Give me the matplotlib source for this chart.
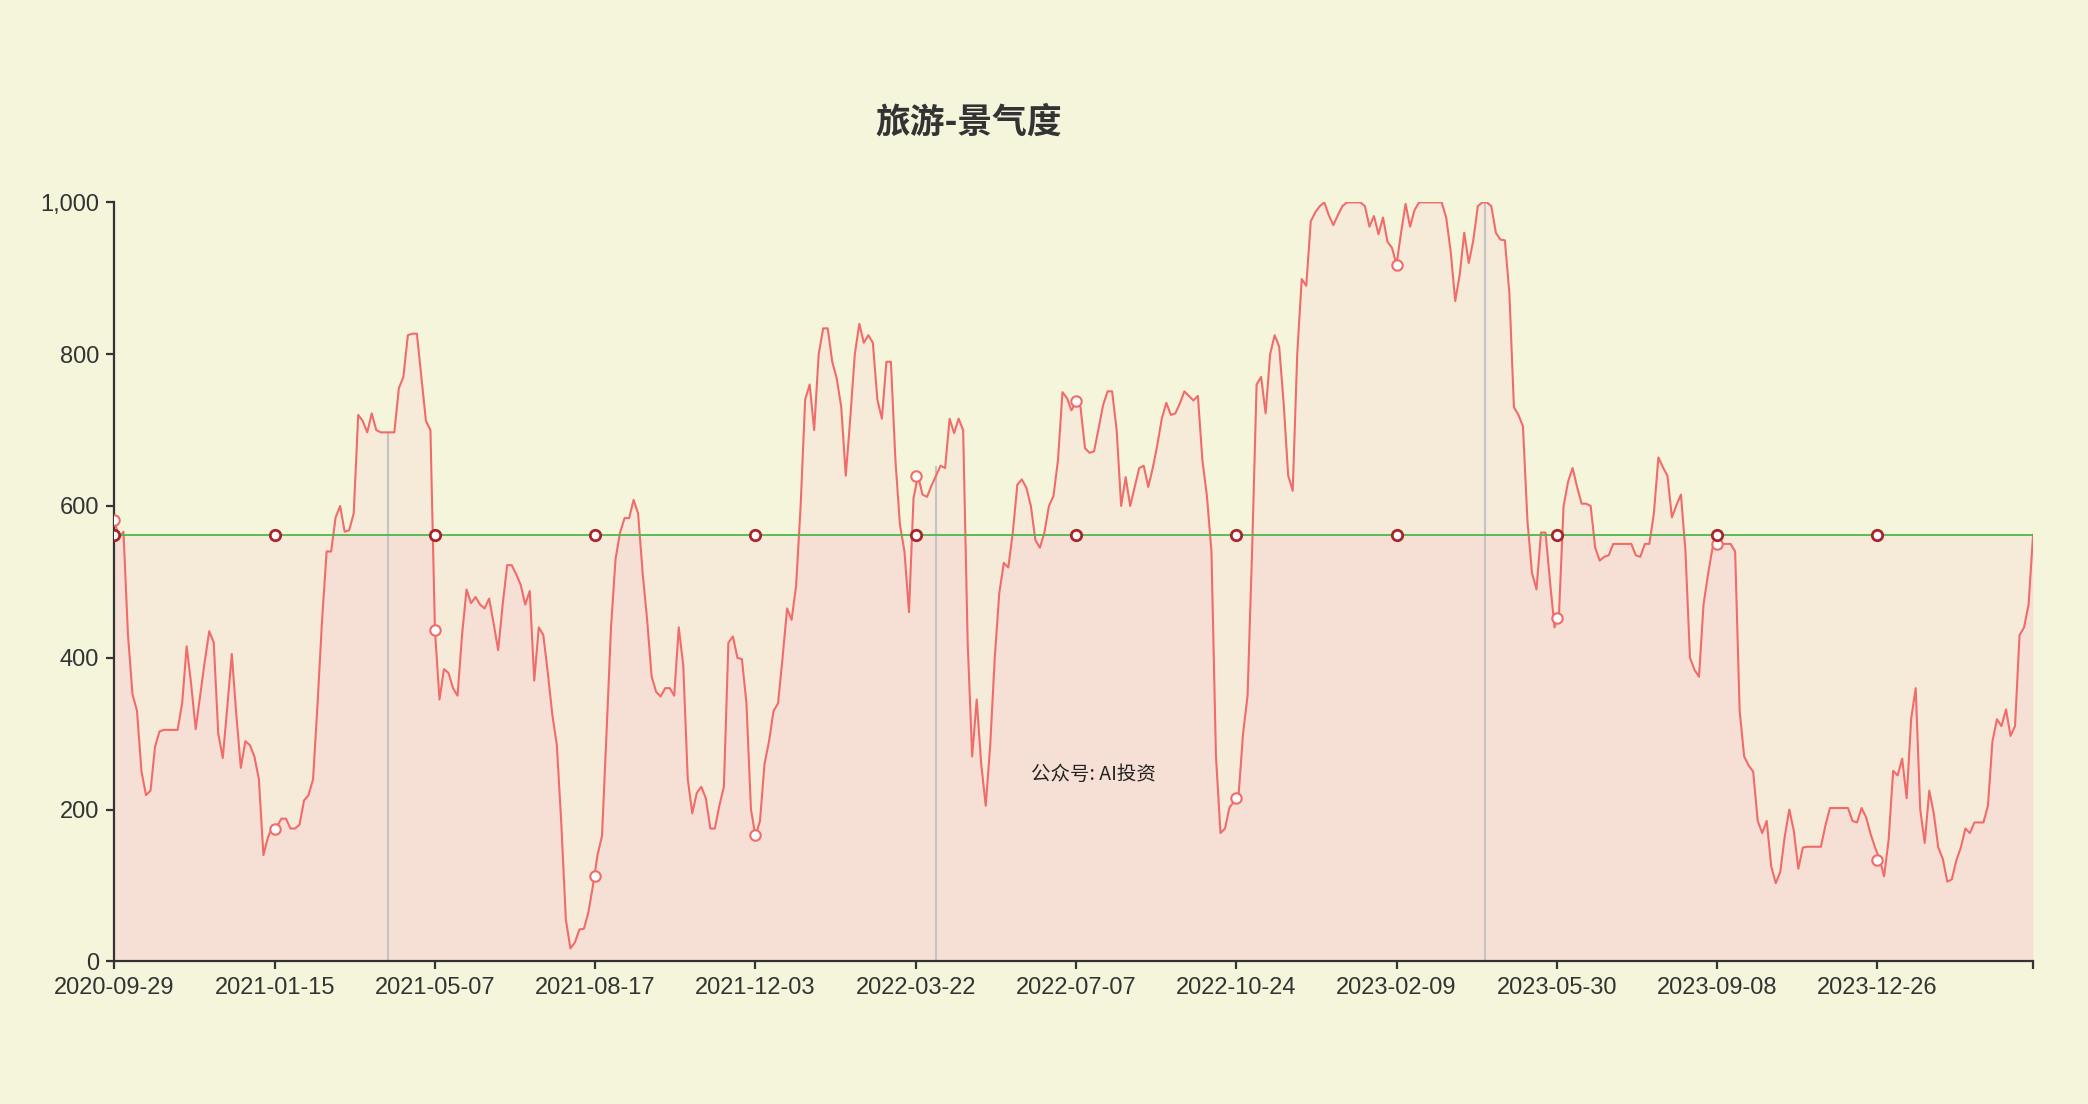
import numpy as np
import matplotlib
matplotlib.use('Agg')
import matplotlib.pyplot as plt
import matplotlib.ticker as ticker

plt.rcParams['font.family'] = ['Liberation Sans', 'Noto Sans CJK SC', 'DejaVu Sans']

# 旅游-景气度, one reading every 2 trading days (2020-09-29 ... 2024-04)
step = 2
values = [
    581, 558, 566, 430, 352, 330, 250, 219, 225, 283,
    303, 305, 305, 305, 305, 340, 415, 365, 306, 350,
    395, 435, 420, 300, 268, 335, 405, 325, 255, 290,
    285, 270, 240, 140, 163, 178, 178, 188, 188, 175,
    175, 180, 212, 219, 240, 340, 450, 540, 540, 585,
    600, 566, 568, 590, 720, 712, 697, 722, 700, 697,
    697, 697, 697, 755, 770, 825, 827, 827, 770, 712,
    700, 436, 345, 385, 380, 360, 350, 430, 490, 472,
    480, 470, 465, 478, 445, 410, 470, 522, 522, 510,
    496, 470, 488, 370, 440, 430, 380, 325, 285, 180,
    55, 17, 25, 42, 43, 65, 100, 140, 165, 300,
    440, 530, 565, 584, 584, 608, 590, 512, 450, 375,
    355, 349, 360, 360, 350, 440, 390, 240, 195, 222,
    230, 215, 175, 175, 205, 230, 420, 428, 400, 398,
    340, 200, 165, 185, 260, 290, 330, 340, 400, 465,
    450, 495, 600, 740, 760, 700, 800, 834, 834, 790,
    768, 730, 640, 716, 800, 840, 815, 825, 815, 740,
    715, 790, 790, 660, 575, 540, 460, 610, 640, 615,
    612, 627, 640, 653, 650, 715, 696, 715, 700, 420,
    270, 345, 260, 205, 285, 400, 485, 525, 519, 565,
    628, 635, 624, 600, 555, 545, 565, 600, 613, 660,
    750, 742, 726, 737, 730, 676, 670, 672, 702, 733,
    751, 751, 700, 600, 638, 600, 625, 650, 653, 625,
    650, 680, 715, 736, 720, 722, 735, 751, 745, 739,
    745, 660, 613, 540, 270, 169, 175, 203, 210, 218,
    300, 350, 540, 760, 770, 722, 800, 825, 810, 735,
    640, 620, 800, 899, 890, 975, 987, 995, 1000, 983,
    970, 983, 995, 1000, 1000, 1000, 1000, 995, 968, 982,
    958, 980, 948, 940, 918, 960, 998, 968, 990, 1000,
    1000, 1000, 1000, 1000, 1000, 980, 935, 870, 905, 960,
    920, 950, 995, 1000, 1000, 995, 960, 951, 950, 880,
    730, 720, 705, 580, 512, 490, 565, 565, 500, 440,
    460, 600, 632, 650, 625, 603, 603, 600, 545, 528,
    533, 535, 550, 550, 550, 550, 550, 535, 533, 550,
    550, 590, 664, 651, 640, 585, 601, 615, 540, 400,
    384, 375, 470, 510, 545, 550, 550, 550, 550, 540,
    330, 270, 258, 250, 185, 169, 185, 125, 103, 118,
    165, 200, 172, 122, 150, 151, 151, 151, 151, 179,
    202, 202, 202, 202, 202, 185, 183, 202, 190, 168,
    150, 135, 112, 160, 251, 245, 267, 215, 320, 360,
    200, 156, 225, 195, 150, 135, 105, 108, 133, 150,
    175, 169, 183, 183, 183, 205, 290, 319, 310, 332,
    297, 310, 430, 440, 470, 562,
]

# category axis labels (every 71 trading days)
tick_labels = ['2020-09-29', '2021-01-15', '2021-05-07', '2021-08-17',
               '2021-12-03', '2022-03-22', '2022-07-07', '2022-10-24',
               '2023-02-09', '2023-05-30', '2023-09-08', '2023-12-26']
tick_every = 71
# values shown with a symbol at each labelled day
tick_vals = [581, 175, 436, 113, 167, 640, 738, 215, 918, 452, 550, 134]

# grey drop lines (trading-day index, value)
vline_idx = [121, 364, 607]
vline_vals = [697, 653, 1000]

latest = values[-1]   # green reference line

#======================================================
x = np.arange(len(values)) * step
n_last = x[-1]
tick_pos = np.arange(len(tick_labels)) * tick_every

bg = '#f5f5dc'
red = '#f26b6b'
fill_c = '#ff8cbe'
green = '#4cb84c'

fig = plt.figure(figsize=(20.88, 11.04), dpi=100, facecolor=bg)
ax = fig.add_axes([0.0548, 0.1292, 0.9189, 0.6875])
ax.set_facecolor(bg)

# area under the green line and under the red line (overlap gives the darker pink)
ax.fill_between(x, 0, latest, color=fill_c, alpha=0.1, lw=0)
ax.fill_between(x, 0, values, color=fill_c, alpha=0.1, lw=0)

ax.vlines(vline_idx, 0, vline_vals, color='#c4c4c4', lw=1.5, zorder=2)

ax.plot(x, values, color=red, lw=1.5, zorder=3)
ax.plot([0, n_last], [latest, latest], color=green, lw=1.3, zorder=3)

ax.plot(tick_pos, tick_vals, ls='none', marker='o', ms=7.5, mfc='white',
        mec=red, mew=1.5, zorder=5)
ax.plot(tick_pos, [latest] * len(tick_pos), ls='none', marker='o', ms=7.5,
        mfc='white', mec='#a8262b', mew=2, zorder=6)

ax.text(0.51, 0.246, '公众号: AI投资', transform=ax.transAxes, ha='center',
        va='center', fontsize=14, color='#222222',
        family=['Noto Sans CJK SC', 'DejaVu Sans'])

fig.text(0.464, 0.889, '旅游-景气度', ha='center', va='center', fontsize=25,
         fontweight='bold', color='#333333',
         family=['Noto Sans CJK SC', 'DejaVu Sans'])

#%% axes
ax.set_xlim(0, n_last)
ax.set_ylim(0, 1000)
ax.set_xticks(list(tick_pos) + [n_last])
ax.set_xticklabels(tick_labels + [''])
ax.yaxis.set_major_locator(ticker.MultipleLocator(200))
ax.yaxis.set_major_formatter(ticker.FuncFormatter(lambda v, p: '{:,.0f}'.format(v)))

for s in ['top', 'right']:
    ax.spines[s].set_visible(False)
for s in ['left', 'bottom']:
    ax.spines[s].set_color('#333333')
    ax.spines[s].set_linewidth(1.6)
ax.tick_params(axis='both', direction='out', length=6, width=1.6,
               color='#333333', labelcolor='#333333', labelsize=17, pad=5)

plt.savefig('out.png', dpi=100, facecolor=bg)
